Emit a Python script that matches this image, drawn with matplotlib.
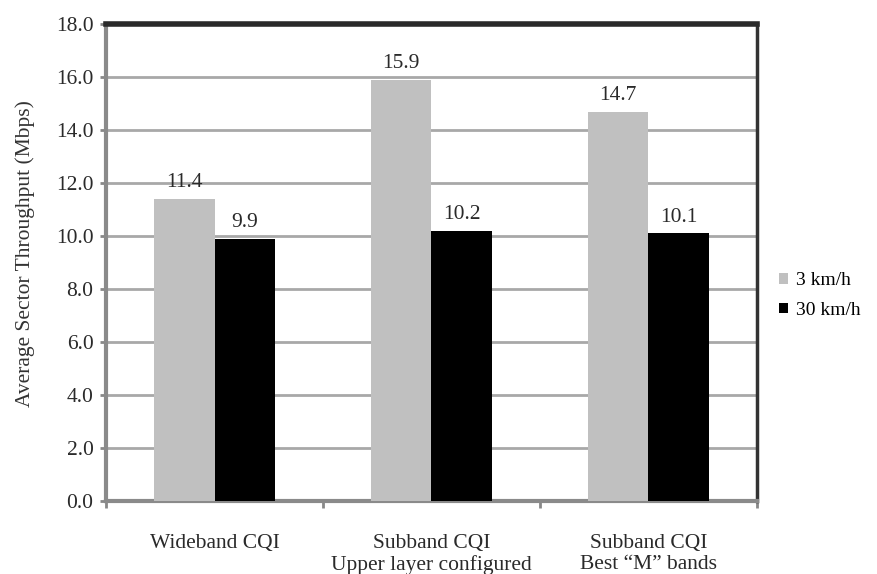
import matplotlib
matplotlib.use("Agg")
import matplotlib.pyplot as plt
import numpy as np

# data
categories = ['Wideband CQI', 'Subband CQI\nUpper layer configured', 'Subband CQI\nBest \u201cM\u201d bands']
speed_3 = [11.4, 15.9, 14.7]
speed_30 = [9.9, 10.2, 10.1]
series_names = ['3 km/h', '30 km/h']

plt.rcParams['font.family'] = ['Liberation Serif', 'DejaVu Serif']

fig = plt.figure(figsize=(8.77, 5.74), dpi=100)
ax = fig.add_axes([0.121, 0.127, 0.742, 0.831])

x = np.arange(len(categories))
w = 0.28
b1 = ax.bar(x - w / 2, speed_3, w, color='#c0c0c0', label=series_names[0], zorder=3)
b2 = ax.bar(x + w / 2, speed_30, w, color='black', label=series_names[1], zorder=3)

for bars, vals in [(b1, speed_3), (b2, speed_30)]:
    for r, v in zip(bars, vals):
        ax.annotate('%.1f' % v, (r.get_x() + r.get_width() / 2, v),
                    xytext=(0, 5), textcoords='offset points',
                    ha='center', va='bottom', fontsize=15.5, color='#2a2a2a')

ax.set_xlim(-0.5, 2.5)
ax.set_ylim(0, 18)
ax.set_yticks(np.arange(0, 18.1, 2))
ax.set_yticklabels(['%.1f' % t for t in np.arange(0, 18.1, 2)])
ax.yaxis.grid(True, color='#a8a8a8', linewidth=2, zorder=0)

# category ticks sit on the boundaries, labels centred
ax.set_xticks(np.arange(-0.5, 2.6, 1))
ax.set_xticklabels([])
ax.set_xticks(x, minor=True)
ax.set_xticklabels(categories, minor=True, fontsize=15.5, color='#2a2a2a', linespacing=1.1)
ax.tick_params(axis='x', which='minor', length=0, pad=24)
ax.tick_params(axis='x', which='major', length=5, width=2, color='#888888')
ax.tick_params(axis='y', labelsize=15.5, length=4, width=2, pad=5,
               color='#888888', labelcolor='#2a2a2a')

ax.spines['left'].set_color('#8a8a8a')
ax.spines['left'].set_linewidth(3)
ax.spines['bottom'].set_color('#8a8a8a')
ax.spines['bottom'].set_linewidth(3)
ax.spines['top'].set_color('#2a2a2a')
ax.spines['top'].set_linewidth(4)
ax.spines['right'].set_color('#333333')
ax.spines['right'].set_linewidth(2.5)

ax.set_ylabel('Average Sector Throughput (Mbps)', fontsize=15.5, color='#333333')
ax.yaxis.set_label_coords(-0.11, 0.52)

fig.legend(handles=[b1, b2], labels=series_names, loc='center left',
           bbox_to_anchor=(0.888, 0.485), frameon=False, fontsize=14,
           handlelength=0.45, handleheight=0.45, handletextpad=0.45, labelspacing=0.65,
           borderaxespad=0, borderpad=0)

fig.savefig('out.png', dpi=100)
